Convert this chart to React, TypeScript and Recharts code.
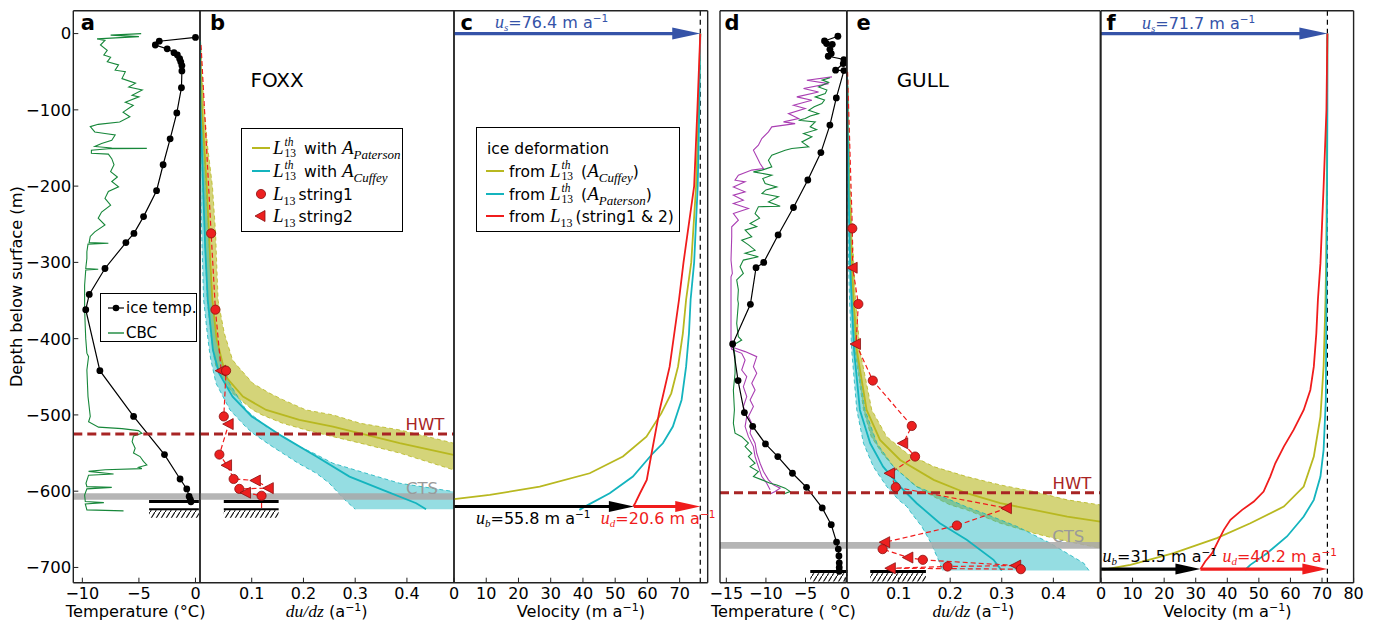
import React from "react"
import {
  ComposedChart,
  Line,
  Area,
  XAxis,
  YAxis,
  ReferenceLine,
  ReferenceArea,
  ReferenceDot,
  Legend,
} from "recharts"

const SANS = "'DejaVu Sans', sans-serif"
const MATH = "'Liberation Serif', 'DejaVu Serif', serif"

const YEL = "#b8b820"
const CYA = "#14b4be"
const RED = "#f01c1c"
const GRN = "#17873a"
const MAG = "#aa3fb3"
const HWTC = "#a82424"
const BLUE = "#3553a8"

const TOP = 10.7
const XAXIS_H = 42.3
const Y_DOMAIN: [number, number] = [-720, 30]
const Y_TICKS = [0, -100, -200, -300, -400, -500, -600, -700]

// ---------- FOXX (panels a-c) ----------  [depth, value]
const foxxIceTemp = [
  [-5, 0], [-10, -3.2], [-15, -3.55], [-20, -2.5], [-25, -1.9], [-28, -1.6], [-33, -1.4], [-37, -1.3],
  [-42, -1.2], [-49, -1.2], [-71, -1.24], [-104, -1.65], [-138, -2.24], [-172, -2.86], [-206, -3.44],
  [-240, -4.59], [-262, -5.44], [-274, -6.15], [-308, -8.0], [-342, -9.39], [-362, -9.7], [-442, -8.45],
  [-502, -5.47], [-552, -2.74], [-584, -1.36], [-597, -0.77], [-607, -0.56], [-611, -0.45], [-614, -0.4],
]

const foxxCbc = [
  [0, -4.8], [-2, -7.5], [-4, -5.0], [-7, -8.7], [-9, -8.0], [-15, -8.4], [-22, -7.8], [-28, -8.1],
  [-31, -7.5], [-37, -7.8], [-41, -6.8], [-48, -7.1], [-50, -6.2], [-59, -6.5], [-65, -5.3], [-70, -5.9],
  [-74, -4.7], [-81, -5.6], [-83, -5.0], [-90, -6.2], [-94, -5.5], [-103, -6.4], [-109, -5.8], [-116, -6.7],
  [-119, -8.6], [-122, -9.3], [-129, -8.9], [-131, -8.0], [-133, -7.1], [-140, -7.4], [-144, -8.3],
  [-148, -8.9], [-150, -7.4], [-150.5, -4.3], [-151, -7.7], [-153, -9.2], [-157, -9.2], [-158, -7.7],
  [-164, -7.4], [-172, -7.2], [-181, -7.5], [-188, -6.9], [-194, -7.4], [-201, -6.8], [-207, -7.7],
  [-216, -8.0], [-225, -7.5], [-234, -8.3], [-242, -8.6], [-251, -8.0], [-260, -8.9], [-266, -9.3],
  [-274, -9.4], [-275, -7.7], [-276, -9.5], [-286, -9.6], [-295, -9.6], [-308, -9.7], [-309, -8.6],
  [-310, -9.7], [-330, -9.8], [-360, -9.8], [-382, -9.75], [-400, -9.7], [-419, -9.6], [-423.6, -9.45],
  [-441, -9.6], [-476, -9.5], [-502, -9.3], [-509, -9.45], [-516, -8.57], [-518, -6.5], [-520.6, -5.04],
  [-524, -4.74], [-527.6, -5.48], [-535, -5.6], [-543.7, -5.33], [-550, -5.48], [-554.6, -4.9],
  [-561, -4.6], [-565.6, -4.3], [-568.6, -5.04], [-570.4, -4.74], [-572, -7.98], [-574, -9.45],
  [-577.4, -7.24], [-579, -9.45], [-589.6, -9.68], [-594, -9.6], [-595, -7.4], [-597, -9.6], [-605, -9.8],
  [-613.6, -9.74], [-615, -8.1], [-616.7, -9.74], [-624.5, -9.6], [-625.8, -6.36],
]

// [depth, du/dz, marker]  c = string1, t = string2
const foxxStrings = [
  [-15, 0.002, ""], [-262, 0.0215, "c"], [-362, 0.0298, "c"], [-442, 0.041, "t"], [-442, 0.0504, "c"],
  [-502, 0.046, "c"], [-512, 0.0555, "t"], [-552, 0.0375, "c"], [-566, 0.0523, "t"], [-584, 0.065, "c"],
  [-586, 0.108, "t"], [-596, 0.133, "t"], [-597, 0.076, "c"], [-602, 0.089, "t"], [-606, 0.119, "c"],
  [-622, 0.119, ""],
]

// [depth, low, high]
const foxxBandPaterson = [
  [-10, 0, 0.001], [-90, 0.001, 0.007], [-150, 0.003, 0.015], [-200, 0.005, 0.024], [-260, 0.009, 0.03],
  [-350, 0.014, 0.035], [-393, 0.021, 0.047], [-428, 0.028, 0.063], [-437, 0.031, 0.074], [-450, 0.043, 0.091],
  [-458.6, 0.05, 0.102], [-471.7, 0.063, 0.135], [-480, 0.078, 0.16], [-493.5, 0.102, 0.205],
  [-500, 0.12, 0.257], [-511, 0.16, 0.31], [-519.7, 0.205, 0.386], [-528.5, 0.257, 0.44],
  [-537, 0.31, 0.49], [-550, 0.386, 0.55], [-572, 0.49, 0.65],
]
const foxxMidPaterson = [
  [-10, 0], [-100, 0.004], [-200, 0.013], [-300, 0.02], [-350, 0.024], [-400, 0.032], [-450, 0.05],
  [-476, 0.083], [-493.5, 0.128], [-506.6, 0.192], [-515.3, 0.257], [-537, 0.386], [-552.5, 0.49], [-560, 0.55],
]
const foxxBandCuffey = [
  [-10, 0, 0.001], [-90, 0, 0.003], [-200, 0.001, 0.012], [-280, 0.004, 0.018], [-349, 0.007, 0.024],
  [-393, 0.014, 0.031], [-415, 0.018, 0.037], [-428, 0.021, 0.041], [-458.6, 0.031, 0.057],
  [-493.5, 0.058, 0.089], [-515.3, 0.088, 0.128], [-524, 0.102, 0.15], [-541.6, 0.14, 0.192],
  [-550.3, 0.16, 0.22], [-563.4, 0.19, 0.257], [-576.5, 0.225, 0.321], [-589.6, 0.25, 0.386],
  [-600.5, 0.265, 0.49], [-611.4, 0.28, 0.6], [-623.6, 0.3, 0.7],
]
const foxxMidCuffey = [
  [-10, 0], [-100, 0.001], [-200, 0.006], [-280, 0.01], [-349, 0.015], [-415, 0.025], [-445.5, 0.037],
  [-476, 0.063], [-502, 0.1], [-528.5, 0.16], [-554.6, 0.225], [-580.9, 0.289], [-598.3, 0.353],
  [-615.8, 0.418], [-623.6, 0.437],
]

const foxxVelCuffey = [
  [0, 76.4], [-100, 75.9], [-200, 75.1], [-300, 73.6], [-349, 72.0], [-393, 71.0], [-436.7, 69.5],
  [-471.7, 67.4], [-498, 64.3], [-528.5, 59.7], [-554.6, 52.4], [-576.5, 42.1], [-594, 26.6],
  [-604.9, 11.1], [-610.5, 0],
]
const foxxVelPaterson = [
  [0, 76.4], [-100, 76.1], [-200, 75.6], [-300, 74.5], [-349, 73.4], [-393, 72.9], [-436.7, 72.0],
  [-480.4, 70.6], [-515.3, 67.9], [-537.2, 64.8], [-550.3, 61.7], [-580.9, 55.5], [-602.7, 48.3],
  [-618, 41.6], [-624.5, 38.9],
]
const foxxVelStrings = [
  [0, 76.4], [-100, 75.5], [-200, 74.5], [-300, 71.2], [-349, 69.8], [-436.7, 66.9], [-493.5, 63.8],
  [-550.3, 61.3], [-585.2, 59.8], [-602.7, 57.7], [-615.8, 56.2], [-620, 55.6],
]

// ---------- GULL (panels d-f) ----------
const gullIceTemp = [
  [-3.5, -0.91], [-9.7, -2.6], [-13.1, -2.34], [-14, -1.62], [-20.6, -1.92], [-26.2, -1.75],
  [-29.7, -2.13], [-34, -0.15], [-39.3, -0.23], [-48, -1.2], [-48.5, -0.15], [-84.3, -1.11],
  [-120, -1.92], [-156, -3.06], [-192, -4.71], [-228, -6.52], [-264, -8.46], [-300, -10.28],
  [-307, -11.25], [-355, -11.96], [-407, -14.2], [-455, -13.52], [-497, -12.72], [-515, -11.67],
  [-538, -10.06], [-554.6, -8.5], [-576.5, -6.65], [-595, -4.87], [-622, -2.89], [-644, -1.75],
  [-666.8, -1.08], [-676, -0.86], [-685, -0.78], [-694, -0.74], [-700, -0.74], [-705, -0.74],
]
const gullCbcGreen = [
  [-58, -1.9], [-61, -2.9], [-64, -2.09], [-70, -3.35], [-74, -2.3], [-78.7, -2.51], [-83, -3.77],
  [-87, -2.6], [-91.8, -2.93], [-96, -3.9], [-100.5, -4.6], [-104.9, -3.35], [-108, -4.4], [-111.4, -5.04],
  [-113.6, -5.88], [-115.8, -3.77], [-122.3, -4.41], [-126, -3.6], [-131, -5.25], [-135.4, -4.2],
  [-142, -5.46], [-148.5, -4.6], [-150.7, -6.73], [-153, -7.57], [-159.5, -9.26], [-166, -9.68],
  [-174.7, -9.26], [-179, -10.5], [-181.3, -11.58], [-185.7, -9.26], [-190, -10.4], [-196.6, -10.1],
  [-201, -8.63], [-205, -10.0], [-209.7, -10.5], [-214, -8.42], [-220.6, -9.68], [-226.3, -8.2],
  [-227, -10.95], [-236, -11.37], [-242, -10.8], [-249, -12.0], [-253, -11.16], [-257.7, -12.63],
  [-266.5, -11.79], [-270.8, -13.06], [-277, -12.2], [-284, -11.37], [-288, -12.63], [-292.7, -10.95],
  [-297, -12.85], [-305.8, -13.27], [-314.5, -12.85], [-323, -13.69], [-336, -13.48], [-349, -13.56],
  [-353.8, -13.48], [-380, -13.69], [-397.4, -13.48], [-401.8, -13.06], [-408.4, -14.11],
  [-423.6, -13.9], [-445.5, -13.9], [-467.3, -14.11], [-493.5, -13.98], [-511, -14.11], [-524, -13.9],
  [-528.5, -13.06], [-537, -12.21], [-541.5, -12.63], [-550.3, -11.79], [-554.7, -12.21],
  [-563.4, -11.37], [-567.8, -12.0], [-574.3, -10.95], [-580.9, -11.58], [-585.2, -10.5],
  [-589.6, -9.47], [-591.8, -8.63], [-596, -7.57], [-600.5, -6.94], [-603.6, -7.78],
]
const gullCbcMagenta = [
  [-56.8, -1.66], [-61.2, -4.83], [-65.6, -2.09], [-72, -5.25], [-76.5, -3.35], [-83, -6.1],
  [-87.4, -4.2], [-94, -6.52], [-98.3, -5.04], [-104.9, -7.15], [-111.4, -5.88], [-115.8, -7.78],
  [-118, -6.31], [-122.3, -9.26], [-128.9, -9.68], [-137.6, -10.52], [-146.4, -10.95],
  [-152.9, -11.58], [-161.6, -11.16], [-170.4, -10.74], [-177, -10.31], [-179, -11.79],
  [-185.7, -13.48], [-192.2, -13.9], [-194.4, -12.63], [-201, -14.11], [-207.5, -12.63],
  [-211.9, -14.11], [-218.4, -12.85], [-222.8, -14.11], [-229.3, -12.21], [-235.9, -14.11],
  [-244.6, -13.48], [-253.4, -14.32], [-266.5, -14.32], [-297, -14.41], [-314.5, -14.24],
  [-318.9, -14.41], [-349.4, -14.41], [-410.5, -14.41], [-417, -12.63], [-423.6, -11.16],
  [-436.7, -11.58], [-445.5, -11.16], [-458.6, -11.79], [-467.3, -11.37], [-480.4, -12.0],
  [-489.1, -11.58], [-502.2, -12.21], [-511, -11.79], [-524, -12.0], [-537.2, -11.37],
  [-550.3, -11.16], [-563.4, -10.74], [-574.3, -10.31], [-585.2, -9.68], [-591.8, -9.05],
  [-596.1, -8.2], [-600.5, -8.84], [-603.6, -9.47],
]
const gullCbcMagenta2 = [
  [-410.5, -14.41], [-414, -14.32], [-419.3, -13.06], [-428, -12.63], [-441.1, -13.06],
  [-449.8, -12.42], [-463, -12.85], [-476, -12.42], [-489, -12.85], [-502, -12.42], [-515.3, -12.63],
  [-528.5, -12.21], [-541.5, -11.58], [-554.7, -11.37], [-567.8, -10.95], [-580.9, -10.52],
  [-589.6, -9.9], [-598.3, -9.47],
]

const gullStrings = [
  [-50, 0.001, ""], [-255.5, 0.0103, "c"], [-307, 0.011, "t"], [-354.6, 0.022, "c"], [-407, 0.0175, "t"],
  [-455, 0.05, "c"], [-514.5, 0.1256, "c"], [-537.2, 0.109, "t"], [-554.6, 0.132, "c"],
  [-576.5, 0.0835, "t"], [-594.8, 0.0945, "c"], [-622.3, 0.31, "t"], [-645, 0.213, "c"],
  [-666.9, 0.074, "t"], [-676, 0.069, "c"], [-687, 0.119, "t"], [-690, 0.147, "c"],
  [-697.5, 0.328, "t"], [-698.8, 0.195, "c"], [-701, 0.085, "t"], [-702.3, 0.337, "c"],
]
const gullBandPaterson = [
  [-50, 0, 0.001], [-200, 0.002, 0.006], [-300, 0.006, 0.013], [-350, 0.009, 0.017], [-415, 0.0155, 0.025],
  [-493.5, 0.032, 0.048], [-528.5, 0.047, 0.077], [-550.3, 0.068, 0.116], [-567.8, 0.09, 0.168],
  [-580.9, 0.112, 0.232], [-591.8, 0.13, 0.297], [-600.5, 0.15, 0.362], [-611.4, 0.18, 0.427],
  [-618, 0.2, 0.491], [-624.5, 0.232, 0.55], [-642, 0.297, 0.65], [-655.1, 0.362, 0.7],
  [-666, 0.427, 0.75], [-674.7, 0.491, 0.8],
]
const gullMidPaterson = [
  [-50, 0], [-200, 0.004], [-300, 0.009], [-350, 0.013], [-415, 0.019], [-493.5, 0.038], [-532.8, 0.064],
  [-559, 0.103], [-585.2, 0.168], [-602.7, 0.232], [-615.8, 0.297], [-624.5, 0.362], [-633.3, 0.427],
  [-639.8, 0.491], [-645, 0.55],
]
const gullBandCuffey = [
  [-50, 0, 0.001], [-200, 0.001, 0.005], [-300, 0.003, 0.01], [-350, 0.005, 0.013], [-415, 0.009, 0.019],
  [-493.5, 0.019, 0.035], [-537.2, 0.032, 0.058], [-567.8, 0.051, 0.09], [-594, 0.077, 0.135],
  [-611.4, 0.1, 0.2], [-620.2, 0.116, 0.23], [-628.9, 0.125, 0.265], [-646.4, 0.145, 0.33],
  [-668.2, 0.163, 0.394], [-694.4, 0.18, 0.459], [-704, 0.184, 0.469],
]
const gullMidCuffey = [
  [-50, 0], [-200, 0.003], [-300, 0.006], [-350, 0.009], [-415, 0.0136], [-493.5, 0.025], [-537.2, 0.045],
  [-567.8, 0.07], [-594, 0.103], [-615.8, 0.135], [-642, 0.18], [-663.8, 0.232], [-690, 0.284], [-704, 0.3],
]

const gullVelCuffey = [
  [0, 71.7], [-100, 71.6], [-200, 71.5], [-300, 71.3], [-349, 71.1], [-436.7, 70.5], [-502.2, 69.5],
  [-554.6, 67.4], [-594, 64.2], [-620.2, 57.9], [-642, 47.3], [-661.6, 36.7], [-681.3, 23],
  [-696.6, 9.3], [-703, 0.8],
]
const gullVelPaterson = [
  [0, 71.7], [-100, 71.7], [-200, 71.6], [-349, 71.4], [-480.4, 71.2], [-545.9, 70.5], [-580.9, 69.5],
  [-611.4, 67.4], [-633.3, 64.2], [-659.4, 58.9], [-681.3, 52.6], [-696.6, 47.3], [-703, 45.7],
]
const gullVelStrings = [
  [0, 71.7], [-100, 71.4], [-201, 70.5], [-301, 69.5], [-349, 68.7], [-393, 68.2], [-436.7, 67.4],
  [-467.3, 66.3], [-493.5, 64.2], [-519.7, 61], [-541.6, 57.9], [-563.4, 55.2], [-580.9, 53.6],
  [-600.5, 51.5], [-613.6, 48.4], [-624.5, 44.7], [-637.6, 41], [-650.7, 38.9], [-663.8, 37.3],
  [-681.3, 35.2], [-692.2, 33], [-702.2, 31.5],
]

// surface / basal velocities (m a-1)
const foxxUs = 76.4
const foxxUb = 55.8
const foxxUd = 20.6
const gullUs = 71.7
const gullUb = 31.5
const gullUd = 40.2

const pts = (a: number[][]) => a.map(([d, v]) => ({ d, v }))
const band = (a: number[][]) => a.map(([d, lo, hi]) => ({ d, r: [lo, hi] }))
const marks = (a: any[][]) => a.map(([d, v, m]) => ({ d, v, m }))

const fmt = (v: number) => String(v).replace("-", "\u2212")
const tickStyle = { fill: "#000", fontSize: 16, fontFamily: SANS }
const frame = { stroke: "#222", strokeWidth: 1.4 }
const tl = { stroke: "#222", strokeWidth: 1 }

function Panel(props: any) {
  const { plotL, plotR, padL, padR, yW = 1, xDomain, xTicks, yLabels = false, children } = props
  const left = plotL - padL - yW
  const width = plotR - plotL + padL + padR + yW + 1
  return (
    <div style={{ position: "absolute", left, top: 0 }}>
      <ComposedChart
        layout="vertical"
        width={width}
        height={625}
        margin={{ top: TOP - 1, right: padR, bottom: 0, left: padL }}
      >
        <XAxis
          type="number"
          domain={xDomain}
          ticks={xTicks}
          allowDataOverflow
          interval={0}
          height={XAXIS_H}
          tickSize={-5}
          tickMargin={9.5}
          tickFormatter={fmt}
          tick={tickStyle}
          axisLine={frame}
          tickLine={tl}
        />
        <XAxis
          xAxisId="top"
          orientation="top"
          type="number"
          domain={xDomain}
          ticks={xTicks}
          allowDataOverflow
          interval={0}
          height={1}
          tickSize={-5}
          tick={false}
          axisLine={frame}
          tickLine={tl}
        />
        <YAxis
          dataKey="d"
          type="number"
          domain={Y_DOMAIN}
          ticks={Y_TICKS}
          reversed
          allowDataOverflow
          interval={0}
          width={yW}
          tickSize={-5}
          tickMargin={7}
          tick={yLabels ? { ...tickStyle, fontSize: 16.5 } : false}
          tickFormatter={fmt}
          axisLine={frame}
          tickLine={tl}
        />
        <YAxis
          yAxisId="r"
          orientation="right"
          type="number"
          domain={Y_DOMAIN}
          ticks={Y_TICKS}
          reversed
          allowDataOverflow
          interval={0}
          width={1}
          tickSize={-5}
          tick={false}
          axisLine={frame}
          tickLine={tl}
        />
        {children}
      </ComposedChart>
    </div>
  )
}

// text anchored to a data point, offset in pixels
function note(key: string, x: number, y: number, draw: (cx: number, cy: number) => React.ReactElement) {
  return (
    <ReferenceDot
      key={key}
      x={x}
      y={y}
      r={0}
      ifOverflow="visible"
      shape={(p: any) => draw(p.cx, p.cy)}
    />
  )
}

const letter = (key: string, x: number, dx: number, s: string) =>
  note(key, x, 30, (cx, cy) => (
    <text x={cx + dx} y={cy + 19.5} fontFamily={SANS} fontWeight="bold" fontSize={21} fill="#000">
      {s}
    </text>
  ))

const plain = (key: string, x: number, y: number, s: string, color: string, size = 16.5) =>
  note(key, x, y, (cx, cy) => (
    <text x={cx} y={cy} textAnchor="middle" dominantBaseline="central" fontFamily={SANS} fontSize={size} fill={color}>
      {s}
    </text>
  ))

const LABEL_DY = 34.5
const tempLabel = (key: string, x: number, dx: number, spaced: boolean) =>
  note(key, x, -720, (cx, cy) => (
    <text x={cx + dx} y={cy + LABEL_DY} textAnchor="middle" fontFamily={SANS} fontSize={16.2} fill="#000">
      {spaced ? "Temperature ( \u00b0C)" : "Temperature (\u00b0C)"}
    </text>
  ))

const dudzLabel = (key: string, x: number) =>
  note(key, x, -720, (cx, cy) => (
    <text x={cx} y={cy + LABEL_DY} textAnchor="middle" fontFamily={SANS} fontSize={16.2} fill="#000">
      <tspan fontFamily={MATH} fontStyle="italic" fontSize={17.5}>du/dz</tspan>
      <tspan> (a</tspan>
      <tspan fontSize={11} dy={-6}>{"\u22121"}</tspan>
      <tspan dy={6}>)</tspan>
    </text>
  ))

const velLabel = (key: string, x: number) =>
  note(key, x, -720, (cx, cy) => (
    <text x={cx} y={cy + LABEL_DY} textAnchor="middle" fontFamily={SANS} fontSize={16.2} fill="#000">
      <tspan>Velocity (m a</tspan>
      <tspan fontSize={11} dy={-6}>{"\u22121"}</tspan>
      <tspan dy={6}>)</tspan>
    </text>
  ))

const uLabel = (key: string, x: number, y: number, dx: number, dy: number, sub: string, val: number, color: string) =>
  note(key, x, y, (cx, cy) => (
    <text x={cx + dx} y={cy + dy} fontFamily={SANS} fontSize={16} fill={color}>
      <tspan fontFamily={MATH} fontStyle="italic" fontSize={18}>u</tspan>
      <tspan fontFamily={MATH} fontStyle="italic" fontSize={11} dy={3}>{sub}</tspan>
      <tspan dy={-3}>={val} m a</tspan>
      <tspan fontSize={10.5} dy={-6}>{"\u22121"}</tspan>
    </text>
  ))

const arrowShape = (color: string, head: number, hw: number, lw: number) => (p: any) => {
  const { x1, y1, x2, y2 } = p
  return (
    <g>
      <line x1={x1} y1={y1} x2={x2 - head + 2} y2={y2} stroke={color} strokeWidth={lw} />
      <polygon points={`${x2},${y2} ${x2 - head},${y2 - hw} ${x2 - head},${y2 + hw}`} fill={color} />
    </g>
  )
}

const arrow = (key: string, from: number, to: number, y: number, color: string, head: number, hw: number) => (
  <ReferenceLine
    key={key}
    segment={[{ x: from, y }, { x: to, y }]}
    ifOverflow="visible"
    stroke={color}
    shape={arrowShape(color, head, hw, 3.2)}
  />
)

function marker(p: any) {
  const { cx, cy, payload, index } = p
  const k = `m${index}`
  if (cx == null || cy == null) return <g key={k} />
  if (payload.m === "c")
    return <circle key={k} cx={cx} cy={cy} r={4.6} fill="#ec2020" stroke="#8a1010" strokeWidth={0.8} />
  if (payload.m === "t")
    return (
      <polygon
        key={k}
        points={`${cx - 6},${cy} ${cx + 4.5},${cy - 5.5} ${cx + 4.5},${cy + 5.5}`}
        fill="#ec2020"
        stroke="#8a1010"
        strokeWidth={0.8}
      />
    )
  return <g key={k} />
}

function bed(key: string, x1: number, x2: number, lines: number[], h1: number, h2: number) {
  return [
    ...lines.map((y, i) => (
      <ReferenceLine
        key={`${key}l${i}`}
        segment={[{ x: x1, y }, { x: x2, y }]}
        ifOverflow="visible"
        stroke="#000"
        strokeWidth={i === 0 ? 3 : 2}
      />
    )),
    <ReferenceArea key={`${key}h`} x1={x1} x2={x2} y1={h1} y2={h2} ifOverflow="visible" fill="url(#hatch)" fillOpacity={1} stroke="none" />,
  ]
}

const series = (key: string, data: number[][], color: string, w = 1.8, extra: any = {}) => (
  <Line
    key={key}
    data={pts(data)}
    dataKey="v"
    stroke={color}
    strokeWidth={w}
    dot={false}
    activeDot={false}
    isAnimationActive={false}
    {...extra}
  />
)

const bandArea = (key: string, data: number[][], color: string, op: number) => (
  <Area
    key={key}
    data={band(data)}
    dataKey="r"
    type="linear"
    stroke={color}
    strokeWidth={0.8}
    strokeDasharray="4 3"
    fill={color}
    fillOpacity={op}
    dot={false}
    activeDot={false}
    isAnimationActive={false}
  />
)

const strings = (key: string, data: any[][]) => (
  <Line
    key={key}
    data={marks(data)}
    dataKey="v"
    stroke={RED}
    strokeWidth={1.2}
    strokeDasharray="5 3"
    dot={marker}
    activeDot={false}
    isAnimationActive={false}
  />
)

const boxStyle: React.CSSProperties = {
  position: "relative",
  border: "1px solid #000",
  background: "#fff",
  boxSizing: "border-box",
  fontFamily: SANS,
  fontSize: 15.5,
  color: "#000",
}

function Row({ y, x0, w, tx, sample, children }: any) {
  return (
    <>
      <svg style={{ position: "absolute", left: x0, top: y - 6 }} width={w} height={12}>
        {sample}
      </svg>
      <div style={{ position: "absolute", left: tx, top: y - 11, height: 22, lineHeight: "22px", whiteSpace: "nowrap" }}>
        {children}
      </div>
    </>
  )
}

const mi: React.CSSProperties = { fontFamily: MATH, fontStyle: "italic", fontSize: 19 }
const small: React.CSSProperties = { fontFamily: MATH, fontSize: 11.5, lineHeight: "11px", display: "block" }
const LTh = () => (
  <span>
    <span style={mi}>L</span>
    <span
      style={{
        display: "inline-block",
        verticalAlign: "middle",
        margin: "0 8px 0 1px",
        position: "relative",
        top: -1,
      }}
    >
      <span style={{ ...small, fontStyle: "italic" }}>th</span>
      <span style={small}>13</span>
    </span>
  </span>
)
const L13 = () => (
  <span>
    <span style={mi}>L</span>
    <span style={{ fontFamily: MATH, fontSize: 12, position: "relative", top: 5, marginRight: 3 }}>13</span>
  </span>
)
const A = ({ s }: { s: string }) => (
  <span>
    <span style={mi}>A</span>
    <span style={{ fontFamily: MATH, fontStyle: "italic", fontSize: 13, position: "relative", top: 5 }}>{s}</span>
  </span>
)

const lineSample = (color: string, w = 18) => <line x1={0} y1={6} x2={w} y2={6} stroke={color} strokeWidth={2} />

function LegendA() {
  return (
    <div style={{ ...boxStyle, width: 97, height: 49, fontSize: 15 }}>
      <Row y={14} x0={7} w={16} tx={25} sample={<><line x1={0} y1={6} x2={16} y2={6} stroke="#000" strokeWidth={1.2} /><circle cx={8} cy={6} r={3.3} fill="#000" /></>}>
        ice temp.
      </Row>
      <Row y={38.4} x0={7} w={16} tx={25} sample={<line x1={0} y1={6} x2={16} y2={6} stroke={GRN} strokeWidth={1.4} />}>
        CBC
      </Row>
    </div>
  )
}

function LegendB() {
  return (
    <div style={{ ...boxStyle, width: 162, height: 104 }}>
      <Row y={19} x0={10} w={18} tx={31} sample={lineSample(YEL)}>
        <LTh />with <A s="Paterson" />
      </Row>
      <Row y={42.3} x0={10} w={18} tx={31} sample={lineSample(CYA)}>
        <LTh />with <A s="Cuffey" />
      </Row>
      <Row y={65} x0={12} w={14} tx={31} sample={<circle cx={7} cy={6} r={4.6} fill="#ec2020" stroke="#8a1010" strokeWidth={0.8} />}>
        <L13 />string1
      </Row>
      <Row y={87.3} x0={12} w={14} tx={31} sample={<polygon points="1,6 11,0.5 11,11.5" fill="#ec2020" stroke="#8a1010" strokeWidth={0.8} />}>
        <L13 />string2
      </Row>
    </div>
  )
}

function LegendC() {
  return (
    <div style={{ ...boxStyle, width: 204, height: 105 }}>
      <div style={{ position: "absolute", left: 10, top: 10, lineHeight: "22px" }}>ice deformation</div>
      <Row y={42.7} x0={9} w={18} tx={32} sample={lineSample(YEL)}>
        from <LTh />(<A s="Cuffey" />)
      </Row>
      <Row y={65.7} x0={9} w={18} tx={32} sample={lineSample(CYA)}>
        from <LTh />(<A s="Paterson" />)
      </Row>
      <Row y={87.7} x0={9} w={18} tx={32} sample={lineSample(RED)}>
        from <L13 />(string1 &amp; 2)
      </Row>
    </div>
  )
}

const legend = (Comp: any, left: number, top: number) => (
  <Legend
    layout="vertical"
    align="center"
    verticalAlign="middle"
    content={() => <Comp />}
    wrapperStyle={{ left, top, width: "auto", height: "auto" }}
  />
)

export default function App() {
  return (
    <div style={{ position: "absolute", left: 0, top: 0, width: 1379, height: 625, background: "#fff", overflow: "hidden" }}>
      <svg width={0} height={0} style={{ position: "absolute" }}>
        <defs>
          <pattern id="hatch" patternUnits="userSpaceOnUse" width={5} height={8}>
            <line x1={0} y1={8} x2={5} y2={0} stroke="#000" strokeWidth={1.1} />
          </pattern>
        </defs>
      </svg>

      {/* a: FOXX temperature */}
      <Panel plotL={73.3} plotR={200} padL={0} padR={6} yW={73.3} xDomain={[-10.8, 0.4]} xTicks={[-10, -5, 0]} yLabels>
        <ReferenceArea y1={-602.6} y2={-611.4} fill="#a8a8a8" fillOpacity={0.85} stroke="none" ifOverflow="hidden" />
        {series("cbc", foxxCbc, GRN, 1.1)}
        {series("ice", foxxIceTemp, "#000", 1.2, { dot: { r: 3.4, fill: "#000", stroke: "#000", strokeWidth: 0 } })}
        <ReferenceLine y={-525} stroke={HWTC} strokeWidth={3} strokeDasharray="9 5" />
        {bed("bedA", -4.1, 0.3, [-613.6, -623.6], -625, -635)}
        {letter("la", -10.8, 7.5, "a")}
        {tempLabel("xa", -5.2, -1, false)}
        {note("ya", -10.8, -345, (cx, cy) => (
          <text x={17} y={cy - 10} transform={`rotate(-90, 17, ${cy - 10})`} textAnchor="middle" dominantBaseline="central" fontFamily={SANS} fontSize={16.2} fill="#000">
            Depth below surface (m)
          </text>
        ))}
        {legend(LegendA, 100, 293.3)}
      </Panel>

      {/* b: FOXX du/dz */}
      <Panel plotL={200} plotR={454} padL={10} padR={10} xDomain={[0, 0.491]} xTicks={[0.1, 0.2, 0.3, 0.4]}>
        {bandArea("bp", foxxBandPaterson, YEL, 0.6)}
        {bandArea("bc", foxxBandCuffey, CYA, 0.45)}
        {series("mp", foxxMidPaterson, YEL, 1.8)}
        {series("mc", foxxMidCuffey, CYA, 1.8)}
        <ReferenceArea y1={-602.6} y2={-611.4} fill="#a8a8a8" fillOpacity={0.85} stroke="none" ifOverflow="hidden" />
        <ReferenceLine y={-525} stroke={HWTC} strokeWidth={3} strokeDasharray="9 5" />
        {strings("st", foxxStrings)}
        {bed("bedB", 0.046, 0.152, [-613.6, -623.6], -625, -635)}
        {letter("lb", 0, 10, "b")}
        {plain("foxx", 0.149, -61, "FOXX", "#000", 20)}
        {plain("hwtb", 0.435, -513, "HWT", HWTC)}
        {plain("ctsb", 0.429, -596, "CTS", "#9a9a9a")}
        {dudzLabel("xb", 0.245)}
        {legend(LegendB, 52, 127.7)}
      </Panel>

      {/* c: FOXX velocity */}
      <Panel plotL={454} plotR={707.7} padL={10} padR={12} xDomain={[0, 78.7]} xTicks={[0, 10, 20, 30, 40, 50, 60, 70]}>
        <ReferenceLine x={foxxUs} stroke="#000" strokeWidth={1.2} strokeDasharray="5 4" />
        {series("vc", foxxVelCuffey, YEL, 1.8)}
        {series("vp", foxxVelPaterson, CYA, 1.8)}
        {series("vs", foxxVelStrings, RED, 1.8)}
        {arrow("aus", 0, foxxUs, 0, BLUE, 28, 6)}
        {arrow("aub", 0, foxxUb, -620.1, "#000", 25, 5.5)}
        {arrow("aud", foxxUb, foxxUb + foxxUd, -620.1, RED, 25, 5.5)}
        {letter("lc", 0, 6.5, "c")}
        {uLabel("tus", 0, 0, 41, -6, "s", foxxUs, BLUE)}
        {uLabel("tub", 0, -620.1, 22, 18, "b", foxxUb, "#000")}
        {uLabel("tud", foxxUb, -620.1, -33, 18, "d", foxxUd, RED)}
        {velLabel("xc", 39.35)}
        {legend(LegendC, 33, 127.3)}
      </Panel>

      {/* d: GULL temperature */}
      <Panel plotL={720} plotR={846.7} padL={22} padR={14} xDomain={[-15.8, 0.2]} xTicks={[-15, -10, -5, 0]}>
        <ReferenceArea y1={-666.6} y2={-675.4} fill="#a8a8a8" fillOpacity={0.85} stroke="none" ifOverflow="hidden" />
        {series("mag", gullCbcMagenta, MAG, 1.1)}
        {series("mag2", gullCbcMagenta2, MAG, 1.1)}
        {series("grn", gullCbcGreen, GRN, 1.1)}
        {series("iceg", gullIceTemp, "#000", 1.2, { dot: { r: 3.4, fill: "#000", stroke: "#000", strokeWidth: 0 } })}
        <ReferenceLine y={-602} stroke={HWTC} strokeWidth={3} strokeDasharray="9 5" />
        {bed("bedD", -4.4, 0.3, [-705.4], -707.5, -718.5)}
        {letter("ld", -15.8, 4.5, "d")}
        {tempLabel("xd", -7.8, 0, true)}
      </Panel>

      {/* e: GULL du/dz */}
      <Panel plotL={846.7} plotR={1100} padL={5} padR={10} xDomain={[0, 0.491]} xTicks={[0.1, 0.2, 0.3, 0.4]}>
        {bandArea("gbp", gullBandPaterson, YEL, 0.6)}
        {bandArea("gbc", gullBandCuffey, CYA, 0.45)}
        {series("gmp", gullMidPaterson, YEL, 1.8)}
        {series("gmc", gullMidCuffey, CYA, 1.8)}
        <ReferenceArea y1={-666.6} y2={-675.4} fill="#a8a8a8" fillOpacity={0.85} stroke="none" ifOverflow="hidden" />
        <ReferenceLine y={-602} stroke={HWTC} strokeWidth={3} strokeDasharray="9 5" />
        {strings("gst", gullStrings)}
        {bed("bedE", 0.045, 0.153, [-705.4], -707.5, -718.5)}
        {letter("le", 0, 9.5, "e")}
        {plain("gull", 0.147, -61, "GULL", "#000", 20)}
        {plain("hwte", 0.436, -590.5, "HWT", HWTC)}
        {plain("ctse", 0.429, -660, "CTS", "#9a9a9a")}
        {dudzLabel("xe", 0.245)}
      </Panel>

      {/* f: GULL velocity */}
      <Panel plotL={1100.7} plotR={1353.3} padL={10} padR={20} xDomain={[0, 80]} xTicks={[0, 10, 20, 30, 40, 50, 60, 70, 80]}>
        <ReferenceLine x={gullUs} stroke="#000" strokeWidth={1.2} strokeDasharray="5 4" />
        {series("gvc", gullVelCuffey, YEL, 1.8)}
        {series("gvp", gullVelPaterson, CYA, 1.8)}
        {series("gvs", gullVelStrings, RED, 1.8)}
        {arrow("gus", 0, gullUs, 0, BLUE, 28, 6)}
        {arrow("gub", 0, gullUb, -702.2, "#000", 25, 5.5)}
        {arrow("gud", gullUb, gullUb + gullUd, -702.2, RED, 25, 5.5)}
        {letter("lf", 0, 5.5, "f")}
        {uLabel("gtus", 0, 0, 41, -5, "s", gullUs, BLUE)}
        {uLabel("gtub", 0, -702.2, 1.5, -7.5, "b", gullUb, "#000")}
        {uLabel("gtud", gullUb, -702.2, 22, -7.5, "d", gullUd, RED)}
        {velLabel("xf", 40)}
      </Panel>
    </div>
  )
}
